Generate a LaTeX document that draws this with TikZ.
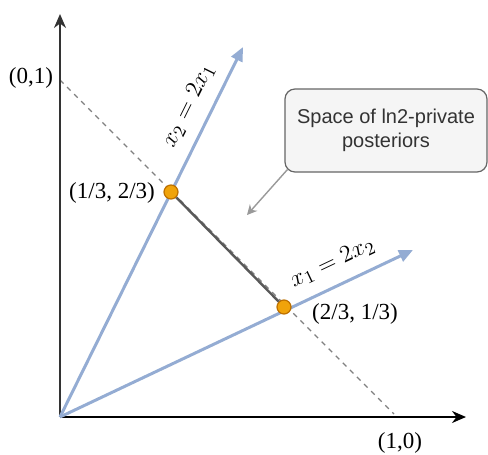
\documentclass[tikz,border=0pt]{standalone}
\usepackage[no-math]{fontspec}
\setmainfont{Liberation Serif}
\setsansfont{Liberation Sans}
\usetikzlibrary{arrows.meta}
\definecolor{rayblue}{HTML}{94ACD3}
\definecolor{ptfill}{HTML}{F0A30A}
\definecolor{ptdraw}{HTML}{BD7000}
\tikzset{
  ray/.style={rayblue,line width=1.5pt,-{Triangle[length=7pt,width=6pt]}},
  pt/.style={circle,fill=ptfill,draw=ptdraw,line width=0.6pt,inner sep=0pt,minimum size=7pt},
  raylabel/.style={sloped,above=4.5pt,black,inner sep=1.5pt,font=\fontsize{12.5}{14}\selectfont},
  notebox/.style={draw=black!60,fill=black!4,rounded corners=5pt,line width=0.6pt,
    minimum width=101pt,minimum height=41.5pt,align=center,text=black!80,
    font=\sffamily\fontsize{10}{12}\selectfont}
}

\begin{document}
\begin{tikzpicture}[x=0.5pt,y=-0.5pt,>=Stealth,font=\fontsize{11.5}{13}\selectfont]
\useasboundingbox (0,0) rectangle (488,455);
\coordinate (O) at (60,417);
\coordinate (ytop) at (60,14);
\coordinate (xend) at (466,417);
\coordinate (e2) at (60,80);
\coordinate (e1) at (394,414);
\coordinate (r2) at (243,47);
\coordinate (r1) at (413,250);
\coordinate (tip) at (247,215);
% simplex edge
\draw[black!50,line width=0.7pt,dash pattern=on 2.5pt off 2.5pt] (e2) -- (e1);
% axes
\draw[black!80,line width=1pt,-{Stealth[length=7pt,width=6pt]}] (O) -- (ytop);
\draw[black,line width=1pt,-{Stealth[length=7pt,width=6pt]}] (O) -- (xend);
% rays
\draw[ray] (O) -- (r2) node[raylabel,pos=0.815]{$x_2=2x_1$};
\draw[ray] (O) -- (r1) node[raylabel,pos=0.80]{$x_1=2x_2$};
\node[pt] (A) at (171,192) {};
\node[pt] (B) at (284,307) {};
\draw[black!65,line width=1.2pt] (A) -- (B);
\node at (31,78) {(0,1)};
\node at (400,443) {(1,0)};
\node at (112,193) {(1/3, 2/3)};
\node at (355,314) {(2/3, 1/3)};
\node[notebox] (note) at (386,130.5) {Space of ln2-private\\posteriors};
\draw[black!40,line width=0.7pt,-{Stealth[length=5pt,width=5pt]}] ([shift={(3,-3)}]note.south west) -- (tip);
\end{tikzpicture}
\end{document}
